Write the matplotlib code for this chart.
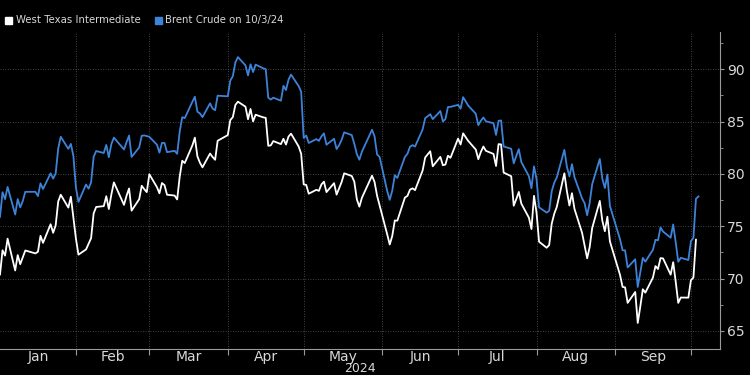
import numpy as np
import pandas as pd
import matplotlib
matplotlib.use("Agg")
import matplotlib.pyplot as plt
import matplotlib.dates as mdates
from matplotlib.patches import Rectangle

# trading days, 2024 (MM-DD)
dates = [
    "01-02", "01-03", "01-04", "01-05", "01-08", "01-09", "01-10", "01-11", "01-12", "01-16", "01-17",
    "01-18", "01-19", "01-22", "01-23", "01-24", "01-25", "01-26", "01-29", "01-30", "01-31",
    "02-01", "02-02", "02-05", "02-06", "02-07", "02-08", "02-09", "02-12", "02-13", "02-14",
    "02-15", "02-16", "02-20", "02-21", "02-22", "02-23", "02-26", "02-27", "02-28", "02-29",
    "03-01", "03-04", "03-05", "03-06", "03-07", "03-08", "03-11", "03-12", "03-13", "03-14",
    "03-15", "03-18", "03-19", "03-20", "03-21", "03-22", "03-25", "03-26", "03-27", "03-28",
    "04-01", "04-02", "04-03", "04-04", "04-05", "04-08", "04-09", "04-10", "04-11", "04-12", "04-15",
    "04-16", "04-17", "04-18", "04-19", "04-22", "04-23", "04-24", "04-25", "04-26", "04-29", "04-30",
    "05-01", "05-02", "05-03", "05-06", "05-07", "05-08", "05-09", "05-10", "05-13", "05-14", "05-15",
    "05-16", "05-17", "05-20", "05-21", "05-22", "05-23", "05-24", "05-28", "05-29", "05-30", "05-31",
    "06-03", "06-04", "06-05", "06-06", "06-07", "06-10", "06-11", "06-12", "06-13", "06-14",
    "06-17", "06-18", "06-20", "06-21", "06-24", "06-25", "06-26", "06-27", "06-28",
    "07-01", "07-02", "07-03", "07-05", "07-08", "07-09", "07-10", "07-11", "07-12", "07-15", "07-16",
    "07-17", "07-18", "07-19", "07-22", "07-23", "07-24", "07-25", "07-26", "07-29", "07-30", "07-31",
    "08-01", "08-02", "08-05", "08-06", "08-07", "08-08", "08-09", "08-12", "08-13", "08-14", "08-15",
    "08-16", "08-19", "08-20", "08-21", "08-22", "08-23", "08-26", "08-27", "08-28", "08-29", "08-30",
    "09-03", "09-04", "09-05", "09-06", "09-09", "09-10", "09-11", "09-12", "09-13", "09-16",
    "09-17", "09-18", "09-19", "09-20", "09-23", "09-24", "09-25", "09-26", "09-27", "09-30",
    "10-01", "10-02", "10-03",
]

wti = [
    70.38, 72.70, 72.19, 73.81, 70.77, 72.24, 71.37, 72.02, 72.68, 72.40, 72.56,
    74.08, 73.41, 75.19, 74.37, 75.09, 77.36, 78.01, 76.78, 77.82, 75.85,
    73.82, 72.28, 72.78, 73.31, 73.86, 76.22, 76.84, 76.92, 77.87, 76.64,
    78.03, 79.19, 77.04, 77.91, 78.61, 76.49, 77.58, 78.87, 78.54, 78.26,
    79.97, 78.74, 78.15, 79.13, 78.93, 78.01, 77.93, 77.56, 79.72, 81.26,
    81.04, 82.72, 83.47, 81.68, 81.07, 80.63, 81.95, 81.62, 81.35, 83.17,
    83.71, 85.15, 85.43, 86.59, 86.91, 86.43, 85.23, 86.21, 85.02, 85.66, 85.41,
    85.36, 82.69, 82.73, 83.14, 82.85, 83.36, 82.81, 83.57, 83.85, 82.63, 81.93,
    79.00, 78.95, 78.11, 78.48, 78.38, 78.99, 79.26, 78.26, 79.12, 78.02, 78.63,
    79.23, 80.06, 79.80, 79.26, 77.57, 76.87, 77.72, 79.83, 79.23, 77.91, 76.99,
    74.22, 73.25, 74.07, 75.55, 75.53, 77.74, 77.90, 78.50, 78.62, 78.45,
    80.33, 81.57, 82.17, 80.73, 81.63, 80.83, 80.90, 81.74, 81.54,
    83.38, 82.81, 83.88, 83.16, 82.33, 81.41, 82.10, 82.62, 82.21, 81.91, 80.76,
    82.85, 82.82, 80.13, 79.78, 76.96, 77.59, 78.28, 77.16, 75.81, 74.73, 77.91,
    76.31, 73.52, 72.94, 73.20, 75.23, 76.19, 76.84, 80.06, 78.35, 76.98, 78.16,
    76.65, 74.37, 73.17, 71.93, 73.01, 74.83, 77.42, 75.53, 74.52, 75.91, 73.55,
    70.34, 69.20, 69.15, 67.67, 68.71, 65.75, 67.31, 68.97, 68.65, 70.09,
    71.19, 70.91, 71.95, 71.92, 70.37, 71.56, 69.69, 67.67, 68.18, 68.17,
    69.83, 70.10, 73.71,
]

brent = [
    75.89, 78.25, 77.59, 78.76, 76.12, 77.59, 76.80, 77.41, 78.29, 78.29, 77.88,
    79.10, 78.56, 80.06, 79.55, 80.04, 82.43, 83.55, 82.40, 82.87, 81.71,
    78.70, 77.33, 78.99, 78.59, 79.21, 81.63, 82.19, 82.00, 82.77, 81.60,
    82.86, 83.47, 82.34, 83.03, 83.67, 81.62, 82.53, 83.65, 83.68, 83.62,
    83.55, 82.80, 82.04, 82.96, 82.96, 82.08, 82.21, 81.92, 84.03, 85.42,
    85.34, 86.89, 87.38, 85.95, 85.78, 85.43, 86.75, 86.25, 86.09, 87.48,
    87.42, 88.92, 89.35, 90.65, 91.17, 90.38, 89.42, 90.48, 89.74, 90.45, 90.10,
    90.02, 87.29, 87.11, 87.29, 87.00, 88.42, 88.02, 89.01, 89.50, 88.40, 87.86,
    83.44, 83.67, 82.96, 83.33, 83.16, 83.58, 83.88, 82.79, 83.36, 82.38, 82.75,
    83.27, 83.98, 83.71, 82.88, 81.90, 81.36, 82.12, 84.22, 83.60, 81.86, 81.62,
    78.36, 77.52, 78.41, 79.87, 79.62, 81.63, 81.92, 82.60, 82.75, 82.62,
    84.25, 85.33, 85.71, 85.24, 86.01, 85.01, 85.25, 86.39, 86.41,
    86.60, 86.24, 87.34, 86.54, 85.75, 84.66, 85.08, 85.40, 85.03, 84.85, 83.73,
    85.08, 85.11, 82.63, 82.40, 81.01, 81.71, 82.37, 81.13, 79.78, 78.63, 80.72,
    79.52, 76.81, 76.30, 76.48, 78.33, 79.16, 79.66, 82.30, 80.69, 79.76, 80.93,
    79.68, 77.66, 77.20, 76.05, 77.22, 79.02, 81.43, 79.55, 78.65, 79.94, 76.93,
    73.75, 72.70, 72.69, 71.06, 71.84, 69.19, 70.61, 71.97, 71.61, 72.75,
    73.70, 73.65, 74.88, 74.49, 73.90, 75.17, 73.46, 71.60, 71.98, 71.77,
    73.56, 73.90, 77.62,
]
# latest intraday Brent quote
brent_last_date = "10-04"
brent_last = 77.85

x = pd.to_datetime(["2024-" + d for d in dates])
xb = x.append(pd.DatetimeIndex([pd.Timestamp("2024-" + brent_last_date)]))
yb = brent + [brent_last]

fig = plt.figure(figsize=(7.5, 3.75), dpi=100, facecolor="black")
ax = fig.add_axes([0.0, 1 - 349 / 375, 720 / 750, 317 / 375], facecolor="black")

ax.plot(x, wti, color="white", lw=1.3)
ax.plot(xb, yb, color="#3d83d9", lw=1.3)

ax.set_xlim(pd.Timestamp("2024-01-02"), pd.Timestamp("2024-10-12 12:00"))
ax.set_ylim(63.26, 93.57)

# y axis on the right
ax.yaxis.tick_right()
ax.set_yticks([65, 70, 75, 80, 85, 90])
ax.set_yticks(np.arange(65, 93, 2.5), minor=True)
ax.tick_params(axis="y", which="major", length=3, width=0.8, color="#9a9a9a",
               labelcolor="#d8d8d8", labelsize=10, pad=2)
ax.tick_params(axis="y", which="minor", length=2, width=0.6, color="#9a9a9a")

# month ticks at boundaries, labels centred in each month
lo, hi = ax.get_xlim()
starts = pd.date_range("2024-01-01", "2024-11-01", freq="MS")
ax.set_xticks(starts[1:10])
ax.set_xticklabels([])
months = ["Jan", "Feb", "Mar", "Apr", "May", "Jun", "Jul", "Aug", "Sep"]
centers = []
for i in range(9):
    a = max(mdates.date2num(starts[i]), lo)
    b = mdates.date2num(starts[i + 1])
    centers.append((a + b) / 2)
ax.set_xticks(centers, minor=True)
ax.set_xticklabels(months, minor=True)
ax.tick_params(axis="x", which="major", length=4, width=0.8, color="#9a9a9a", direction="out")
ax.tick_params(axis="x", which="minor", length=0, labelcolor="#d8d8d8", labelsize=10, pad=1)

ax.grid(which="major", color="#5a5a5a", linestyle=(0, (1, 2)), linewidth=0.6)

for s in ["left", "top"]:
    ax.spines[s].set_visible(False)
for s in ["right", "bottom"]:
    ax.spines[s].set_color("#9a9a9a")
    ax.spines[s].set_linewidth(0.8)

fig.text(360 / 750, 0.0, "2024", color="#d8d8d8", fontsize=9, ha="center", va="bottom")

# legend
fig.add_artist(Rectangle((5 / 750, 1 - 24 / 375), 7 / 750, 7 / 375, color="white",
                         transform=fig.transFigure))
fig.text(16 / 750, 1 - 20 / 375, "West Texas Intermediate", color="#d8d8d8", fontsize=7.3, va="center")
fig.add_artist(Rectangle((155 / 750, 1 - 24 / 375), 7 / 750, 7 / 375, color="#3d83d9",
                         transform=fig.transFigure))
fig.text(165 / 750, 1 - 20 / 375, "Brent Crude on 10/3/24", color="#d8d8d8", fontsize=7.3, va="center")

fig.savefig("out.png", dpi=100, facecolor="black")
